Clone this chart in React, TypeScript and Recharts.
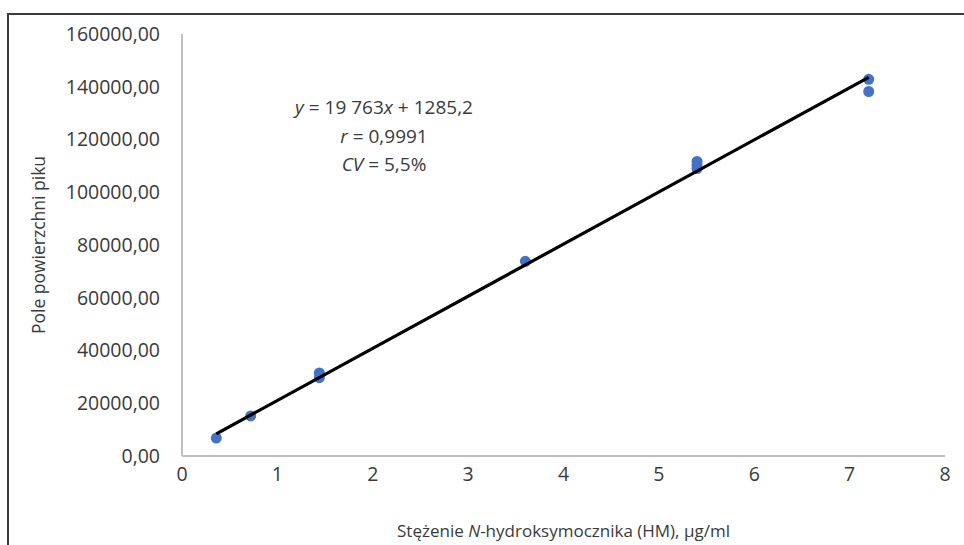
import { ScatterChart, Scatter, XAxis, YAxis } from 'recharts'

const FONT = '"Open Sans", "Noto Sans", sans-serif'
const TEXT = '#3a3a3a'
const AXIS = '#bfbfbf'

const xTicks = [0, 1, 2, 3, 4, 5, 6, 7, 8]
const yTicks = [0, 20000, 40000, 60000, 80000, 100000, 120000, 140000, 160000]

// measured points: concentration (µg/ml) vs peak area
const concentration = [0.36, 0.72, 1.44, 1.44, 3.6, 5.4, 5.4, 5.4, 7.2, 7.2]
const peakArea = [6800, 15200, 31500, 29700, 73800, 111700, 110300, 109000, 142800, 138200]

// regression line y = 19763x + 1285,2 drawn over the calibration range
const slope = 19763
const intercept = 1285.2
const trendX = [0.36, 7.2]

const points = concentration.map((x, i) => ({ x, y: peakArea[i] }))
const trend = trendX.map((x) => ({ x, y: slope * x + intercept }))

const fmtY = (v: number) => v.toFixed(2).replace('.', ',')

function YLabel(props: any) {
  const vb = props.viewBox ?? { x: 0, y: 34, width: 182, height: 422 }
  const x = vb.x + 38
  const y = vb.y + vb.height / 2
  return (
    <text
      x={x}
      y={y}
      transform={`rotate(-90 ${x} ${y})`}
      textAnchor="middle"
      dominantBaseline="central"
      fill={TEXT}
      fontSize={17.5}
      fontFamily={FONT}
    >
      Pole powierzchni piku
    </text>
  )
}

function XLabel(props: any) {
  const vb = props.viewBox ?? { x: 182, y: 456, width: 763, height: 89 }
  return (
    <text
      x={vb.x + vb.width / 2}
      y={vb.y + 74}
      textAnchor="middle"
      dominantBaseline="central"
      fill={TEXT}
      fontSize={17}
      fontFamily={FONT}
    >
      Stężenie <tspan fontStyle="italic">N</tspan>-hydroksymocznika (HM), µg/ml
    </text>
  )
}

export default function App() {
  return (
    <div
      style={{
        position: 'absolute',
        left: 0,
        top: 0,
        width: 964,
        height: 545,
        background: '#fff',
        overflow: 'hidden',
        fontFamily: FONT,
      }}
    >
      <div
        style={{
          position: 'absolute',
          left: 7,
          top: 13,
          width: 1000,
          height: 600,
          borderTop: '2px solid #3c3c3c',
          borderLeft: '2px solid #3c3c3c',
        }}
      />
      <ScatterChart
        width={964}
        height={545}
        margin={{ top: 34, right: 19, bottom: 0, left: 0 }}
        style={{ position: 'absolute', left: 0, top: 0 }}
      >
        <XAxis
          type="number"
          dataKey="x"
          domain={[0, 8]}
          ticks={xTicks}
          interval={0}
          height={89}
          axisLine={{ stroke: AXIS, strokeWidth: 2 }}
          tickLine={false}
          tickSize={0}
          tickMargin={11}
          tick={{ fill: TEXT, fontSize: 19.5, fontFamily: FONT }}
          label={<XLabel />}
        />
        <YAxis
          type="number"
          dataKey="y"
          domain={[0, 160000]}
          ticks={yTicks}
          interval={0}
          width={182}
          axisLine={{ stroke: AXIS, strokeWidth: 2 }}
          tickLine={false}
          tickSize={0}
          tickMargin={22}
          tickFormatter={fmtY}
          tick={{ fill: TEXT, fontSize: 19.5, fontFamily: FONT }}
          label={<YLabel />}
        />
        <Scatter data={points} fill="#4472c4" isAnimationActive={false} shape={(p: any) => (
          <circle cx={p.cx} cy={p.cy} r={5.5} fill="#4472c4" />
        )} />
        <Scatter
          data={trend}
          isAnimationActive={false}
          line={{ stroke: '#000', strokeWidth: 3.2 }}
          shape={() => <g />}
        />
      </ScatterChart>
      <div
        style={{
          position: 'absolute',
          left: 284,
          top: 93,
          width: 200,
          textAlign: 'center',
          fontSize: 19,
          lineHeight: '28.5px',
          color: TEXT,
        }}
      >
        <div>
          <i>y</i> = 19 763<i>x</i> + 1285,2
        </div>
        <div>
          <i>r</i> = 0,9991
        </div>
        <div>
          <i>CV</i> = 5,5%
        </div>
      </div>
    </div>
  )
}
